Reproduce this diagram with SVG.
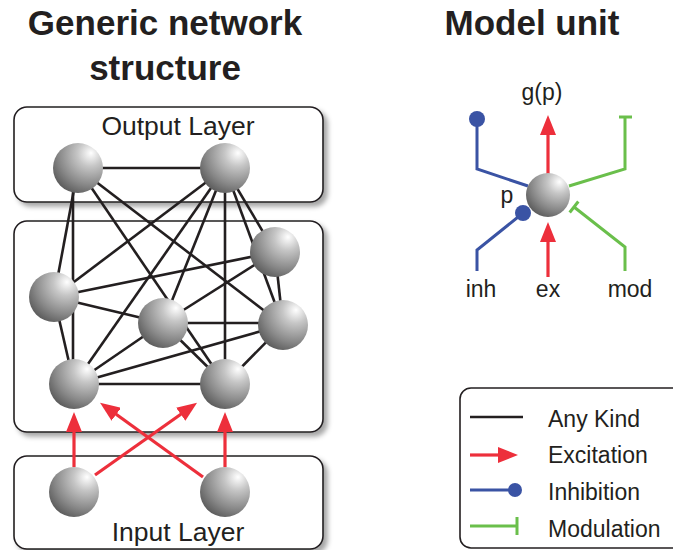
<svg xmlns="http://www.w3.org/2000/svg" width="673" height="550" viewBox="0 0 673 550">
<defs>
<radialGradient id="sph" cx="0.72" cy="0.24" r="0.85" fx="0.76" fy="0.2">
<stop offset="0" stop-color="#ffffff"/>
<stop offset="0.3" stop-color="#c6c6c6"/>
<stop offset="0.72" stop-color="#888888"/>
<stop offset="1" stop-color="#5a5a5a"/>
</radialGradient>
<filter id="shadow" x="-10%" y="-10%" width="130%" height="130%">
<feGaussianBlur in="SourceAlpha" stdDeviation="2.5"/>
<feOffset dx="4" dy="4" result="b"/>
<feFlood flood-color="#000" flood-opacity="0.35"/>
<feComposite in2="b" operator="in"/>
<feMerge><feMergeNode/><feMergeNode in="SourceGraphic"/></feMerge>
</filter>
<marker id="exc" markerUnits="userSpaceOnUse" markerWidth="20" markerHeight="16" refX="4" refY="8" orient="auto">
<path d="M0,0 L20,8 L0,16 Z" fill="#ed2f3b"/>
</marker>
</defs>
<style>
.title{font-family:"Liberation Sans",Arial,sans-serif;font-weight:bold;font-size:35px;fill:#231f20;text-anchor:middle}
.lbl{font-family:"Liberation Sans",Arial,sans-serif;font-size:26.5px;fill:#231f20;text-anchor:middle}
.mu{font-family:"Liberation Sans",Arial,sans-serif;font-size:23px;fill:#231f20;text-anchor:middle}
.leg{font-family:"Liberation Sans",Arial,sans-serif;font-size:23px;fill:#231f20}
.box{fill:#fff;stroke:#231f20;stroke-width:1.6}
.any{stroke:#231f20;stroke-width:2.6;fill:none}
.ex{stroke:#ed2f3b;stroke-width:3.2;fill:none;marker-end:url(#exc)}
.inh{stroke:#3a53a4;stroke-width:3;fill:none}
.inhdot{fill:#3a53a4}
.mod{stroke:#6abf4b;stroke-width:3;fill:none}
.node{fill:url(#sph)}
</style>

<text class="title" x="165" y="35">Generic network</text>
<text class="title" x="165" y="80">structure</text>
<text class="title" x="532" y="35">Model unit</text>

<g id="layers">
<rect id="output-layer" class="box" x="14" y="107" width="309" height="95" rx="13" filter="url(#shadow)"/>
<rect id="hidden-layer" class="box" x="14" y="221" width="309" height="211" rx="13" filter="url(#shadow)"/>
<rect id="input-layer" class="box" x="14" y="456" width="309" height="93" rx="13" filter="url(#shadow)"/>
<text class="lbl" x="178" y="135">Output Layer</text>
<text class="lbl" x="178" y="541">Input Layer</text>
</g>

<g id="connectors">
<line class="any" x1="78" y1="168" x2="225" y2="168"/>
<line class="any" x1="78" y1="168" x2="54" y2="297"/>
<line class="any" x1="73" y1="168" x2="73" y2="384"/>
<line class="any" x1="78" y1="168" x2="225" y2="384"/>
<line class="any" x1="78" y1="168" x2="283" y2="325"/>
<line class="any" x1="225" y1="168" x2="54" y2="297"/>
<line class="any" x1="225" y1="168" x2="74" y2="384"/>
<line class="any" x1="225" y1="168" x2="163" y2="323"/>
<line class="any" x1="225" y1="168" x2="225" y2="384"/>
<line class="any" x1="225" y1="168" x2="275" y2="252"/>
<line class="any" x1="225" y1="168" x2="283" y2="325"/>
<line class="any" x1="54" y1="297" x2="275" y2="252"/>
<line class="any" x1="54" y1="297" x2="163" y2="323"/>
<line class="any" x1="54" y1="297" x2="74" y2="384"/>
<line class="any" x1="163" y1="323" x2="275" y2="252"/>
<line class="any" x1="163" y1="323" x2="283" y2="323"/>
<line class="any" x1="163" y1="323" x2="74" y2="384"/>
<line class="any" x1="163" y1="323" x2="225" y2="384"/>
<line class="any" x1="74" y1="384" x2="283" y2="325"/>
<line class="any" x1="74" y1="384" x2="225" y2="384"/>
<line class="any" x1="225" y1="384" x2="283" y2="325"/>
<line class="any" x1="275" y1="252" x2="283" y2="325"/>
<line class="ex" x1="74" y1="467" x2="74" y2="428"/>
<line class="ex" x1="225" y1="467" x2="225" y2="428"/>
<line class="ex" x1="95" y1="475" x2="184" y2="412"/>
<line class="ex" x1="203" y1="477" x2="113" y2="412"/>
<line class="ex" x1="548" y1="175" x2="548" y2="131"/>
<line class="ex" x1="548" y1="277" x2="548" y2="238"/>
<path class="inh" d="M477,120 L477,169 L528,186"/>
<circle class="inhdot" cx="477" cy="119" r="8"/>
<path class="inh" d="M523,213 L477,250 L477,271"/>
<circle class="inhdot" cx="523" cy="213" r="8"/>
<path class="mod" d="M625,117 L625,169 L569,186"/>
<path class="mod" d="M619,117 L632,117"/>
<path class="mod" d="M574,207 L625,247 L625,271"/>
<path class="mod" d="M578.3,201.5 L569.7,212.5"/>
</g>

<g id="out1"><circle class="node" cx="78" cy="168" r="25"/></g>
<g id="out2"><circle class="node" cx="225" cy="168" r="25"/></g>
<g id="hid1"><circle class="node" cx="54" cy="297" r="25"/></g>
<g id="hid2"><circle class="node" cx="275" cy="252" r="25"/></g>
<g id="hid3"><circle class="node" cx="163" cy="323" r="25"/></g>
<g id="hid4"><circle class="node" cx="283" cy="325" r="25"/></g>
<g id="hid5"><circle class="node" cx="74" cy="384" r="25"/></g>
<g id="hid6"><circle class="node" cx="225" cy="384" r="25"/></g>
<g id="in1"><circle class="node" cx="74" cy="492" r="25"/></g>
<g id="in2"><circle class="node" cx="225" cy="492" r="25"/></g>

<g id="model-unit">
<circle class="node" cx="548" cy="195" r="22"/>
<text class="mu" x="542" y="100">g(p)</text>
<text class="mu" x="507" y="203">p</text>
<text class="mu" x="481" y="297">inh</text>
<text class="mu" x="548" y="297">ex</text>
<text class="mu" x="630" y="297">mod</text>
</g>

<g id="legend">
<rect x="460" y="388" width="240" height="160" rx="11" fill="#fff" stroke="#231f20" stroke-width="1.6"/>
<line class="any" x1="470" y1="417" x2="523" y2="417"/>
<text class="leg" x="548" y="427">Any Kind</text>
<line class="ex" x1="470" y1="455" x2="502" y2="455"/>
<text class="leg" x="548" y="463">Excitation</text>
<line class="inh" x1="470" y1="490" x2="515" y2="490"/>
<circle class="inhdot" cx="515" cy="490" r="7"/>
<text class="leg" x="548" y="500">Inhibition</text>
<line class="mod" x1="470" y1="526" x2="517" y2="526"/>
<line class="mod" x1="517" y1="517" x2="517" y2="535"/>
<text class="leg" x="548" y="537">Modulation</text>
</g>
</svg>
